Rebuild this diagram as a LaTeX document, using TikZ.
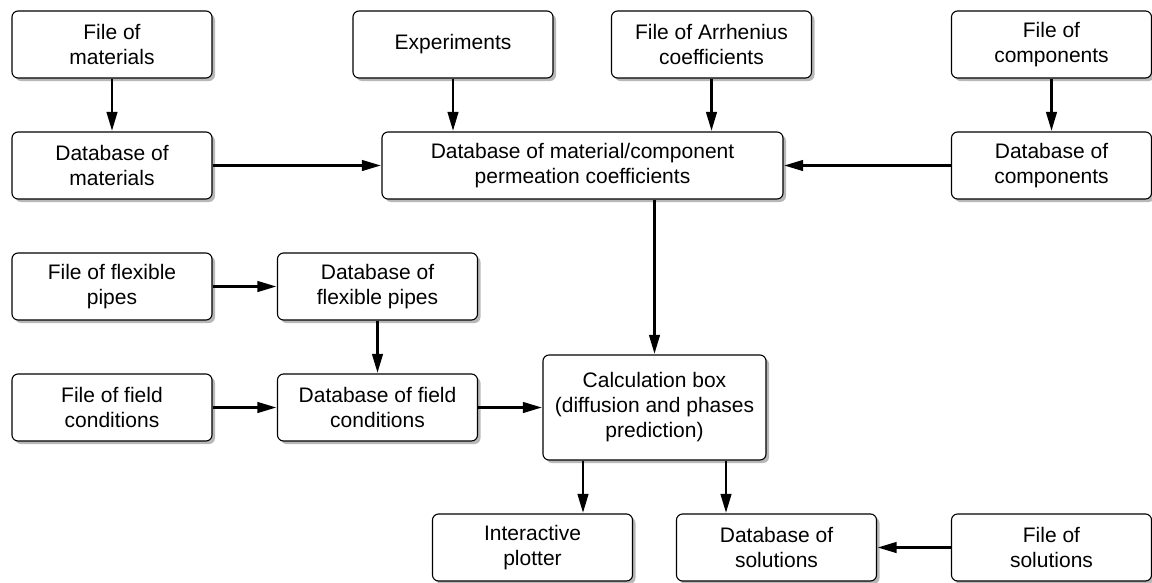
\documentclass[tikz,border=0pt]{standalone}
\usepackage{fontspec}
\setmainfont{Liberation Sans}
\usetikzlibrary{shadows,arrows.meta}
\begin{document}
\begin{tikzpicture}[x=1pt,y=-1pt,
  box/.style={draw=black, line width=1.1pt, rounded corners=6pt, fill=white,
    minimum width=200pt, minimum height=67pt, inner sep=0pt, align=center,
    font=\fontsize{21}{25}\selectfont,
    drop shadow={shadow xshift=3pt, shadow yshift=-3pt, fill=black!28, opacity=1}},
  arr/.style={line width=2.6pt, -{Triangle[length=19pt,width=10.5pt]}, shorten >=0.5pt}]
\useasboundingbox (0,0) rectangle (1152,582);
\node[box] (fmat) at (112,44.5) {File of\\materials};
\node[box] (exp) at (453,44.5) {Experiments};
\node[box] (arrh) at (711.5,44.5) {File of Arrhenius\\coefficients};
\node[box] (fcomp) at (1051.5,44.5) {File of\\components};
\node[box] (dbmat) at (112,165.5) {Database of\\materials};
\node[box, minimum width=401pt] (perm) at (582.5,165.5) {Database of material/component\\permeation coefficients};
\node[box] (dbcomp) at (1051.5,165.5) {Database of\\components};
\node[box] (fpipe) at (112,286.5) {File of flexible\\pipes};
\node[box] (dbpipe) at (377.5,286.5) {Database of\\flexible pipes};
\node[box] (ffield) at (112,407.5) {File of field\\conditions};
\node[box] (dbfield) at (377.5,407.5) {Database of field\\conditions};
\node[box, minimum width=223pt, minimum height=105pt] (calc) at (654.5,407.5) {Calculation box\\(diffusion and phases\\prediction)};
\node[box] (plot) at (532.5,547.5) {Interactive\\plotter};
\node[box] (dbsol) at (776.5,547.5) {Database of\\solutions};
\node[box] (fsol) at (1051.5,547.5) {File of\\solutions};
\draw[arr] (fmat) -- (dbmat);
\draw[arr] (fcomp) -- (dbcomp);
\draw[arr] (exp.south) -- (exp.south |- perm.north);
\draw[arr] (arrh.south) -- (arrh.south |- perm.north);
\draw[arr] (dbmat) -- (perm);
\draw[arr] (dbcomp) -- (perm);
\draw[arr] (perm.south -| calc.north) -- (calc.north);
\draw[arr] (fpipe) -- (dbpipe);
\draw[arr] (dbpipe) -- (dbfield);
\draw[arr] (ffield) -- (dbfield);
\draw[arr] (dbfield) -- (calc);
\draw[arr] ([xshift=-71.5pt]calc.south) -- ([xshift=-71.5pt]calc.south |- plot.north);
\draw[arr] ([xshift=71.5pt]calc.south) -- ([xshift=71.5pt]calc.south |- dbsol.north);
\draw[arr] (fsol) -- (dbsol);
\end{tikzpicture}
\end{document}
